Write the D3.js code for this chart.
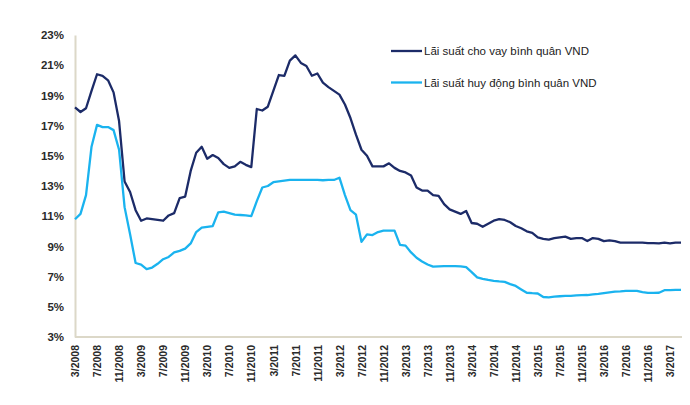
<!DOCTYPE html>
<html>
<head>
<meta charset="utf-8">
<script src="https://cdn.jsdelivr.net/npm/d3@7"></script>
<style>
  body { margin: 0; background: #fff; }
  svg { display: block; }
</style>
</head>
<body>
<svg id="chart" width="690" height="405"></svg>
<script>
// Monthly observations, 3/2008 .. 5/2017
const startYear = 2008, startMonth = 3;
const lendingRate = [
  18.2, 17.9, 18.15, 19.3, 20.4, 20.3, 20.0, 19.2, 17.3, 13.3,
  12.6, 11.4, 10.7, 10.85, 10.8, 10.75, 10.7, 11.05, 11.2, 12.2,
  12.3, 14.0, 15.2, 15.6, 14.8, 15.05, 14.85, 14.45, 14.2, 14.3,
  14.6, 14.4, 14.25, 18.1, 18.0, 18.25, 19.3, 20.35, 20.3, 21.3,
  21.65, 21.15, 20.95, 20.3, 20.45, 19.85, 19.55, 19.3, 19.05, 18.4,
  17.5, 16.4, 15.4, 15.0, 14.3, 14.3, 14.3, 14.5, 14.2, 14.0,
  13.9, 13.7, 12.9, 12.7, 12.7, 12.4, 12.35, 11.8, 11.45, 11.3,
  11.15, 11.35, 10.55, 10.5, 10.3, 10.5, 10.7, 10.8, 10.75, 10.6,
  10.35, 10.2, 10.0, 9.9, 9.6, 9.5, 9.45, 9.55, 9.6, 9.65,
  9.5, 9.55, 9.55, 9.35, 9.55, 9.5, 9.35, 9.4, 9.35, 9.25,
  9.25, 9.25, 9.25, 9.25, 9.22, 9.22, 9.2, 9.25, 9.2, 9.25,
  9.25
];
const depositRate = [
  10.8, 11.15, 12.4, 15.6, 17.05, 16.9, 16.9, 16.7, 15.4, 11.6,
  9.8, 7.9, 7.8, 7.5, 7.6, 7.85, 8.15, 8.3, 8.6, 8.7,
  8.85, 9.2, 9.95, 10.25, 10.3, 10.35, 11.25, 11.3, 11.2, 11.1,
  11.08, 11.05, 11.0, 12.0, 12.9, 13.0, 13.25, 13.3, 13.35, 13.4,
  13.4, 13.4, 13.4, 13.4, 13.4, 13.38, 13.4, 13.4, 13.55, 12.4,
  11.4, 11.1, 9.3, 9.8, 9.75, 9.95, 10.04, 10.05, 10.04, 9.1,
  9.05, 8.6, 8.25, 8.0, 7.8, 7.66, 7.68, 7.7, 7.7, 7.7,
  7.68, 7.62, 7.3, 6.95, 6.85, 6.78, 6.72, 6.68, 6.65, 6.5,
  6.38, 6.15, 5.93, 5.9, 5.88, 5.65, 5.63, 5.67, 5.7, 5.72,
  5.72, 5.75, 5.77, 5.78, 5.82, 5.85, 5.9, 5.95, 6.0, 6.02,
  6.05, 6.05, 6.05, 5.97, 5.92, 5.92, 5.93, 6.1, 6.1, 6.12,
  6.12
];
const yTicks = [3, 5, 7, 9, 11, 13, 15, 17, 19, 21, 23];
const seriesNames = ["Lãi suất cho vay bình quân VND", "Lãi suất huy động bình quân VND"];
const seriesColors = ["#1c2b68", "#1ab3ef"];

const months = lendingRate.map((_, i) => {
  const m0 = startMonth - 1 + i;
  return (m0 % 12 + 1) + "/" + (startYear + Math.floor(m0 / 12));
});

const svg = d3.select("#chart");
const plotLeft = 75, plotRight = 681, plotTop = 35, plotBottom = 337;

const x = d3.scalePoint().domain(months).range([plotLeft, plotRight]);
const y = d3.scaleLinear().domain([3, 23]).range([plotBottom, plotTop]);

const axisColor = "#dcd8c8";

// Y axis
const yAxis = svg.append("g")
  .attr("transform", `translate(${plotLeft},0)`)
  .call(d3.axisLeft(y).tickValues(yTicks).tickSize(0).tickPadding(11).tickFormat(d => d + "%"));
yAxis.select(".domain").attr("stroke", axisColor).attr("stroke-width", 2);
yAxis.selectAll("text")
  .attr("font-family", "Liberation Sans, Arial, sans-serif")
  .attr("font-size", "11.5px").attr("font-weight", "bold").attr("fill", "#2a2a2a");

// X axis
const xAxis = svg.append("g")
  .attr("transform", `translate(0,${plotBottom})`)
  .call(d3.axisBottom(x).tickValues(months.filter((_, i) => i % 4 === 0)).tickSize(0).tickPadding(0));
xAxis.select(".domain").attr("stroke", axisColor).attr("stroke-width", 2)
  .attr("d", `M${plotLeft},0H${plotRight + 1}`);
xAxis.selectAll("text")
  .attr("font-family", "Liberation Sans, Arial, sans-serif")
  .attr("font-size", "10.5px").attr("font-weight", "bold").attr("fill", "#2a2a2a")
  .attr("text-anchor", "end")
  .attr("dy", "0.35em")
  .attr("transform", "translate(0,8) rotate(-90)")
  .attr("x", 0).attr("y", 0);

// Lines
const line = d3.line().x((d, i) => x(months[i])).y(d => y(d));
[lendingRate, depositRate].forEach((s, k) => {
  svg.append("path").datum(s)
    .attr("fill", "none")
    .attr("stroke", seriesColors[k])
    .attr("stroke-width", 2.3)
    .attr("stroke-linejoin", "round")
    .attr("d", line);
});

// Legend
const legend = svg.append("g");
seriesNames.forEach((name, k) => {
  const ly = 51 + k * 31.5;
  legend.append("line").attr("x1", 391).attr("x2", 422).attr("y1", ly).attr("y2", ly)
    .attr("stroke", seriesColors[k]).attr("stroke-width", 2.3);
  legend.append("text").attr("x", 424).attr("y", ly).attr("dy", "0.35em")
    .attr("font-family", "Liberation Sans, Arial, sans-serif")
    .attr("font-size", "11.5px").attr("fill", "#222")
    .text(name);
});
</script>
</body>
</html>
